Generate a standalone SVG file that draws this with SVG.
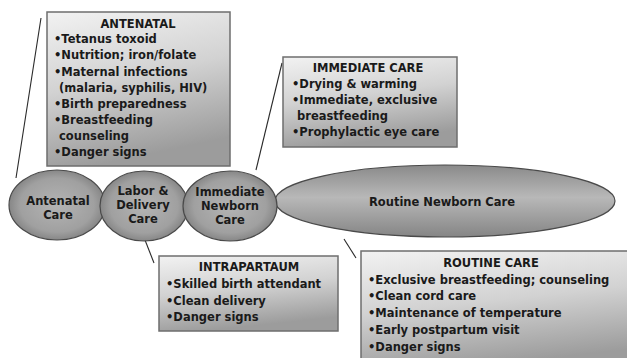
<svg xmlns="http://www.w3.org/2000/svg" width="627" height="358" viewBox="0 0 627 358">
<defs>
<linearGradient id="boxg" x1="0" y1="0" x2="0.25" y2="1">
<stop offset="0" stop-color="#f2f2f2"/>
<stop offset="0.5" stop-color="#d2d2d2"/>
<stop offset="1" stop-color="#9c9c9c"/>
</linearGradient>
<radialGradient id="ellg" cx="0.5" cy="0.5" r="0.55">
<stop offset="0" stop-color="#b4b4b4"/>
<stop offset="0.7" stop-color="#a0a0a0"/>
<stop offset="1" stop-color="#7c7c7c"/>
</radialGradient>
<linearGradient id="longg" x1="0" y1="0" x2="0" y2="1">
<stop offset="0" stop-color="#8a8a8a"/>
<stop offset="0.45" stop-color="#b8b8b8"/>
<stop offset="1" stop-color="#858585"/>
</linearGradient>
</defs>
<style>
.box{fill:url(#boxg);stroke:#6e6e6e;stroke-width:1.5}
.ell{fill:url(#ellg);stroke:#4a4a4a;stroke-width:1.2}
.long{fill:url(#longg);stroke:#4a4a4a;stroke-width:1.2}
text{font-family:"DejaVu Sans","Verdana",sans-serif;font-weight:bold;font-size:11.5px;fill:#1a1a1a}
.t{text-anchor:middle}
.c{text-anchor:middle;font-size:11.5px}
.con{stroke:#2a2a2a;stroke-width:1.1;fill:none}
</style>

<g id="connectors">
<line class="con" x1="41" y1="18" x2="16" y2="178"/>
<line class="con" x1="282" y1="63" x2="256" y2="170"/>
<line class="con" x1="145" y1="240" x2="154" y2="263"/>
<line class="con" x1="344" y1="239" x2="356" y2="258"/>
</g>

<g id="routine-newborn-care">
<ellipse class="long" cx="445" cy="201" rx="170" ry="36"/>
<text class="c" x="442" y="206">Routine Newborn Care</text>
</g>
<g id="antenatal-care">
<ellipse class="ell" cx="57" cy="205" rx="48" ry="35"/>
<text class="c" x="58" y="205">Antenatal</text>
<text class="c" x="58" y="219">Care</text>
</g>
<g id="labor-delivery-care">
<ellipse class="ell" cx="144" cy="206" rx="44" ry="35"/>
<text class="c" x="143" y="195">Labor &amp;</text>
<text class="c" x="143" y="209">Delivery</text>
<text class="c" x="143" y="223">Care</text>
</g>
<g id="immediate-newborn-care">
<ellipse class="ell" cx="230" cy="206" rx="47" ry="35"/>
<text class="c" x="230" y="196">Immediate</text>
<text class="c" x="230" y="210">Newborn</text>
<text class="c" x="230" y="224">Care</text>
</g>

<g id="antenatal-box">
<rect class="box" x="47" y="12" width="183" height="154"/>
<text class="t" x="138" y="28">ANTENATAL</text>
<text x="54" y="43">•Tetanus toxoid</text>
<text x="54" y="59">•Nutrition; iron/folate</text>
<text x="54" y="76">•Maternal infections</text>
<text x="59" y="92">(malaria, syphilis, HIV)</text>
<text x="54" y="108">•Birth preparedness</text>
<text x="54" y="124">•Breastfeeding</text>
<text x="59" y="140">counseling</text>
<text x="54" y="156">•Danger signs</text>
</g>

<g id="immediate-care-box">
<rect class="box" x="283" y="57" width="174" height="90"/>
<text class="t" x="368" y="72">IMMEDIATE CARE</text>
<text x="292" y="88">•Drying &amp; warming</text>
<text x="292" y="104">•Immediate, exclusive</text>
<text x="297" y="120">breastfeeding</text>
<text x="292" y="136">•Prophylactic eye care</text>
</g>

<g id="intrapartaum-box">
<rect class="box" x="159" y="256" width="179" height="75"/>
<text class="t" x="249" y="271">INTRAPARTAUM</text>
<text x="166" y="288">•Skilled birth attendant</text>
<text x="166" y="305">•Clean delivery</text>
<text x="166" y="321">•Danger signs</text>
</g>

<g id="routine-care-box">
<rect class="box" x="361" y="251" width="275" height="120"/>
<text class="t" x="491" y="267">ROUTINE CARE</text>
<text x="368" y="284">•Exclusive breastfeeding; counseling</text>
<text x="368" y="300">•Clean cord care</text>
<text x="368" y="317">•Maintenance of temperature</text>
<text x="368" y="334">•Early postpartum visit</text>
<text x="368" y="351">•Danger signs</text>
</g>
</svg>
